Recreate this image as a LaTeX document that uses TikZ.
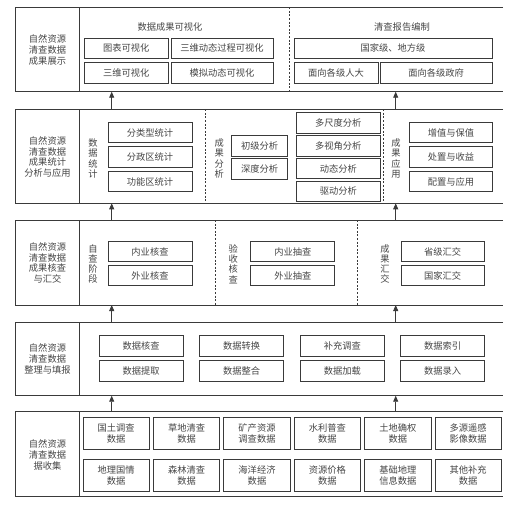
\documentclass[tikz,border=0pt]{standalone}
\usepackage{fontspec}
\setmainfont{Noto Sans CJK SC}
\usetikzlibrary{arrows.meta}
\definecolor{ln}{HTML}{3A3A3A}
\definecolor{tx}{HTML}{454545}
\newcommand{\bx}[6]{\node[box, minimum width=#4bp, minimum height=#5bp] (#1) at (#2,#3) {#6};}
\begin{document}
\begin{tikzpicture}[x=1bp,y=-1bp,
  box/.style={draw=ln, line width=0.8bp, inner sep=0pt, text=tx, align=center,
    font=\fontsize{9.3}{11}\selectfont},
  lab/.style={text=tx, align=center, inner sep=0pt, font=\fontsize{9.3}{10.8}\selectfont},
  vlab/.style={text=tx, align=center, inner sep=0pt, font=\fontsize{9.3}{10.3}\selectfont},
  frame/.style={draw=ln, line width=0.9bp},
  dline/.style={draw=ln, line width=0.8bp, dash pattern=on 2bp off 1.6bp},
  arr/.style={draw=ln, line width=0.8bp, -{Triangle[length=6bp,width=5bp]}}]
\useasboundingbox (0,0) rectangle (524,505);

% ---------- layer frames ----------
\draw[frame] (503,7.3) -- (15.7,7.3) -- (15.7,91.7) -- (503,91.7);
\draw[frame] (79.3,7.3) -- (79.3,91.7);
\draw[frame] (503,109.3) -- (15.7,109.3) -- (15.7,203.3) -- (503,203.3);
\draw[frame] (79.3,109.3) -- (79.3,203.3);
\draw[frame] (503,220) -- (15.7,220) -- (15.7,305) -- (503,305);
\draw[frame] (79.3,220) -- (79.3,305);
\draw[frame] (503,322.3) -- (15.7,322.3) -- (15.7,395.7) -- (503,395.7);
\draw[frame] (79.3,322.3) -- (79.3,395.7);
\draw[frame] (503,411.7) -- (15.7,411.7) -- (15.7,496) -- (503,496);
\draw[frame] (79.3,411.7) -- (79.3,496);

% dashed separators
\draw[dline] (289,7.3) -- (289,91.7);
\draw[dline] (205.7,109.3) -- (205.7,203.3);
\draw[dline] (383.3,109.3) -- (383.3,203.3);
\draw[dline] (215,220) -- (215,305);
\draw[dline] (357.7,220) -- (357.7,305);

% ---------- layer 1 ----------
\node[lab] (L1) at (47.5,50) {自然资源\\清查数据\\成果展示};
\node[lab] (t11) at (170,27.3) {数据成果可视化};
\node[lab] (t12) at (402,27.3) {清查报告编制};
\bx{b11}{126.3}{48.3}{84}{20}{图表可视化}
\bx{b12}{222}{48.3}{102}{20}{三维动态过程可视化}
\bx{b13}{126.3}{73}{84}{20.5}{三维可视化}
\bx{b14}{222}{73}{102}{20.5}{模拟动态可视化}
\bx{b15}{393}{48.3}{198}{20}{国家级、地方级}
\bx{b16}{336}{73}{84}{20.5}{面向各级人大}
\bx{b17}{436.2}{73}{112}{20.5}{面向各级政府}

% ---------- layer 2 ----------
\node[lab] (L2) at (47.5,157) {自然资源\\清查数据\\成果统计\\分析与应用};
\node[vlab] (v21) at (93,158.5) {数\\据\\统\\计};
\bx{b21}{150}{132.5}{84}{20.5}{分类型统计}
\bx{b22}{150}{157}{84}{20.5}{分政区统计}
\bx{b23}{150}{181.6}{84}{20.5}{功能区统计}
\node[vlab] (v22) at (219.3,158.5) {成\\果\\分\\析};
\bx{b24}{259.7}{145.7}{56}{20.7}{初级分析}
\bx{b25}{259.7}{168.7}{56}{20.7}{深度分析}
\bx{b26}{338.3}{123}{83.3}{20.5}{多尺度分析}
\bx{b27}{338.3}{145.7}{83.3}{20.5}{多视角分析}
\bx{b28}{338.3}{168.5}{83.3}{20.5}{动态分析}
\bx{b29}{338.3}{191.2}{83.3}{20.3}{驱动分析}
\node[vlab] (v23) at (396,158.5) {成\\果\\应\\用};
\bx{b2a}{451}{132.5}{83.4}{20.5}{增值与保值}
\bx{b2b}{451}{157}{83.4}{20.5}{处置与收益}
\bx{b2c}{451}{181.6}{83.4}{20.5}{配置与应用}

% ---------- layer 3 ----------
\node[lab] (L3) at (47.5,263) {自然资源\\清查数据\\成果核查\\与汇交};
\node[vlab] (v31) at (93,264) {自\\查\\阶\\段};
\bx{b31}{150}{251.5}{84}{20.7}{内业核查}
\bx{b32}{150}{275.5}{84}{20.7}{外业核查}
\node[vlab] (v32) at (233.3,264) {验\\收\\核\\查};
\bx{b33}{292.8}{251.5}{84}{20.7}{内业抽查}
\bx{b34}{292.8}{275.5}{84}{20.7}{外业抽查}
\node[vlab] (v33) at (385,264) {成\\果\\汇\\交};
\bx{b35}{442.7}{251.5}{83.3}{20.7}{省级汇交}
\bx{b36}{442.7}{275.5}{83.3}{20.7}{国家汇交}

% ---------- layer 4 ----------
\node[lab] (L4) at (47.5,359) {自然资源\\清查数据\\整理与填报};
\bx{b41}{141.2}{346.2}{84}{21}{数据核查}
\bx{b42}{241.7}{346.2}{84}{21}{数据转换}
\bx{b43}{342.3}{346.2}{84}{21}{补充调查}
\bx{b44}{442.7}{346.2}{84}{21}{数据索引}
\bx{b45}{141.2}{370.5}{84}{21}{数据提取}
\bx{b46}{241.7}{370.5}{84}{21}{数据整合}
\bx{b47}{342.3}{370.5}{84}{21}{数据加载}
\bx{b48}{442.7}{370.5}{84}{21}{数据录入}

% ---------- layer 5 ----------
\node[lab] (L5) at (47.5,455) {自然资源\\清查数据\\据收集};
\bx{b51}{116.2}{433.5}{66.5}{31.6}{国土调查\\数据}
\bx{b52}{186.6}{433.5}{66.5}{31.6}{草地清查\\数据}
\bx{b53}{257}{433.5}{66.5}{31.6}{矿产资源\\调查数据}
\bx{b54}{327.4}{433.5}{66.5}{31.6}{水利普查\\数据}
\bx{b55}{397.8}{433.5}{66.5}{31.6}{土地确权\\数据}
\bx{b56}{468.2}{433.5}{66.5}{31.6}{多源遥感\\影像数据}
\bx{b57}{116.2}{475.5}{66.5}{32.4}{地理国情\\数据}
\bx{b58}{186.6}{475.5}{66.5}{32.4}{森林清查\\数据}
\bx{b59}{257}{475.5}{66.5}{32.4}{海洋经济\\数据}
\bx{b5a}{327.4}{475.5}{66.5}{32.4}{资源价格\\数据}
\bx{b5b}{397.8}{475.5}{66.5}{32.4}{基础地理\\信息数据}
\bx{b5c}{468.2}{475.5}{66.5}{32.4}{其他补充\\数据}

% ---------- arrows ----------
\coordinate (a1s) at (111.7,109.3); \coordinate (a1e) at (111.7,91.7);
\coordinate (a2s) at (395.7,109.3); \coordinate (a2e) at (395.7,91.7);
\coordinate (a3s) at (111.7,220);   \coordinate (a3e) at (111.7,203.3);
\coordinate (a4s) at (395.7,220);   \coordinate (a4e) at (395.7,203.3);
\coordinate (a5s) at (111.7,322.3); \coordinate (a5e) at (111.7,305);
\coordinate (a6s) at (395.7,322.3); \coordinate (a6e) at (395.7,305);
\coordinate (a7s) at (111.7,411.7); \coordinate (a7e) at (111.7,395.7);
\coordinate (a8s) at (395.7,411.7); \coordinate (a8e) at (395.7,395.7);
\draw[arr] (a1s) -- (a1e);
\draw[arr] (a2s) -- (a2e);
\draw[arr] (a3s) -- (a3e);
\draw[arr] (a4s) -- (a4e);
\draw[arr] (a5s) -- (a5e);
\draw[arr] (a6s) -- (a6e);
\draw[arr] (a7s) -- (a7e);
\draw[arr] (a8s) -- (a8e);
\end{tikzpicture}
\end{document}
